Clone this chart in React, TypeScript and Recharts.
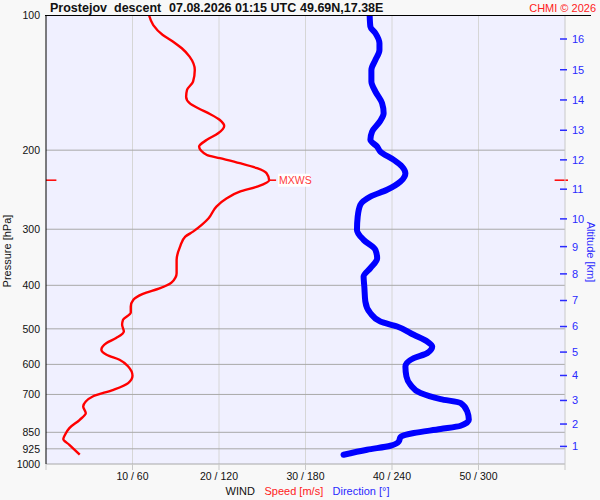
import React from 'react';
import { ScatterChart, Scatter, XAxis, YAxis, CartesianGrid, ReferenceLine } from 'recharts';

// ---- data ----
const speedPressure = [
  100, 105.3, 110.8, 114.7, 118.6, 123.8, 132.5, 140.7, 146.9, 152.0, 157.2, 161.3, 166.3, 171.3, 176.6,
  183.4, 189.7, 196.4, 205.0, 208.4, 213.8, 219.4, 225.1, 233.3, 241.1, 247.4, 255.9, 267.1, 283.5, 293.4,
  303.7, 311.6, 328.0, 351.1, 375.8, 394.4, 405.9, 417.9, 430.9, 446.0, 459.9, 477.5, 489.8, 506.9, 524.3,
  537.9, 556.7, 571.2, 586.0, 606.5, 636.1, 660.3, 683.4, 707.3, 725.7, 744.6, 770.2, 797.1, 831.8, 860.8,
  880.0, 906.1, 953.5,
];
const speedValues = [
  11.9, 12.4, 13.5, 14.7, 15.7, 16.6, 17.2, 17.0, 16.3, 16.2, 16.6, 17.6, 19.0, 20.1, 20.6,
  19.9, 18.6, 17.7, 18.6, 20.1, 22.4, 24.4, 25.5, 25.8, 24.4, 22.4, 20.9, 19.7, 18.8, 18.0,
  17.0, 16.1, 15.5, 15.1, 15.1, 14.5, 13.2, 11.2, 10.1, 9.8, 9.8, 8.9, 8.8, 9.0, 8.1,
  7.0, 6.4, 7.0, 8.5, 9.5, 10.0, 9.5, 7.8, 5.4, 4.6, 4.3, 4.6, 3.9, 2.7, 2.2,
  2.0, 2.7, 3.9,
];
const dirPressure = [
  100, 106.2, 109.8, 115.6, 119.6, 125.9, 132.5, 140.7, 148.1, 157.2, 165.5, 172.8, 181.8, 189.7, 196.4,
  201.5, 210.2, 217.6, 225.1, 234.9, 245.1, 253.8, 264.8, 281.2, 301.0, 316.8, 333.6, 348.0, 366.3, 382.4,
  402.6, 434.6, 461.3, 481.6, 494.1, 515.5, 533.5, 547.4, 566.3, 580.9, 606.5, 638.4, 666.1, 695.1, 716.8,
  731.7, 763.9, 797.1, 822.0, 836.0, 853.1, 871.0, 891.0, 910.8, 929.5, 953.5,
];
const dirValues = [
  224.5, 225.0, 228.5, 231.3, 231.3, 228.5, 225.7, 225.7, 228.5, 233.1, 234.2, 231.5, 226.2, 225.0, 229.7,
  231.9, 241.2, 247.0, 249.3, 245.9, 236.6, 225.0, 218.0, 216.2, 215.7, 220.3, 228.5, 229.7, 225.0, 220.3,
  220.8, 221.5, 225.0, 231.9, 243.6, 255.1, 264.4, 267.9, 264.4, 255.1, 249.3, 250.0, 252.8, 259.8, 273.7,
  287.6, 292.2, 293.3, 287.6, 273.7, 255.1, 245.9, 244.7, 238.9, 222.7, 206.4,
];

const pressureTicks = [100, 200, 300, 400, 500, 600, 700, 850, 925, 1000];
const pressureGrid = [200, 300, 400, 500, 600, 700, 850, 925, 1000];
const speedTicks = [10, 20, 30, 40, 50];
const dirTicks = [60, 120, 180, 240, 300];
const speedAxisTicks = [0, 10, 20, 30, 40, 50, 60];
const altitudeKm = [1, 2, 3, 4, 5, 6, 7, 8, 9, 10, 11, 12, 13, 14, 15, 16];
const altitudePressure = [
  913.7, 814.7, 721.9, 635.1, 563.3, 494.1, 432.4, 377.2, 328.0, 284.5, 244.3, 210.2, 180.6, 154.6, 132.4, 113.1,
];
const mxwsSpeed = 25.8;
const mxwsPressure = 233.3;

const speedData = speedPressure.map((p, i) => ({ p, speed: speedValues[i] }));
const dirData = dirPressure.map((p, i) => ({ p, dir: dirValues[i] }));

const FONT = '"Liberation Sans", Arial, Helvetica, sans-serif';

const NoShape = () => <g />;

const AltTick = (props: any) => {
  const { x, y, payload } = props;
  const idx = altitudePressure.indexOf(payload.value);
  return (
    <g>
      <line x1={x - 5} x2={x + 2} y1={y} y2={y} stroke="#2a2aff" strokeWidth={1.5} />
      <text x={x + 7} y={y} dy="0.36em" fill="#2a2aff" fontSize={11} fontFamily={FONT}>
        {idx >= 0 ? altitudeKm[idx] : ''}
      </text>
    </g>
  );
};

const speedTickFormatter = (v: number) => {
  const idx = speedTicks.indexOf(v);
  return idx >= 0 ? `${v} / ${dirTicks[idx]}` : '';
};

const MxwsLabel = (props: any) => {
  const vb = props.viewBox || {};
  const x = (vb.x ?? 0) + (vb.width ?? 0) + 2;
  const y = vb.y ?? 0;
  return (
    <g>
      <rect x={x} y={y - 6.5} width={32} height={13} fill="#ffffff" />
      <text x={x + 1} y={y} dy="0.36em" fill="#ff3b3b" fontSize={10.5} fontFamily={FONT}>
        MXWS
      </text>
    </g>
  );
};

export default function App() {
  return (
    <div
      style={{
        position: 'absolute',
        left: 0,
        top: 0,
        width: 600,
        height: 500,
        background: '#f8f8f8',
        fontFamily: FONT,
      }}
    >
      <ScatterChart width={600} height={500} margin={{ top: 15, right: 0, bottom: 0, left: 0 }}>
        <CartesianGrid xAxisId="speed" yAxisId="p" fill="#f0f0ff" stroke="none" horizontal={false} vertical={false} />
        <XAxis
          xAxisId="speed"
          dataKey="speed"
          type="number"
          orientation="bottom"
          domain={[0, 60]}
          allowDataOverflow
          ticks={speedAxisTicks}
          interval={0}
          tickFormatter={speedTickFormatter}
          axisLine={false}
          tickLine={{ stroke: '#c8c8c8' }}
          tickSize={6}
          tickMargin={3}
          height={36}
          tick={{ fill: '#111', fontSize: 10.5, fontFamily: FONT }}
        />
        <XAxis
          xAxisId="dir"
          dataKey="dir"
          type="number"
          orientation="top"
          domain={[0, 360]}
          allowDataOverflow
          hide
        />
        <YAxis
          yAxisId="p"
          dataKey="p"
          type="number"
          scale="log"
          domain={[100, 1000]}
          allowDataOverflow
          reversed
          ticks={pressureTicks}
          interval={0}
          width={46}
          axisLine={{ stroke: '#000' }}
          tickLine={false}
          tickSize={0}
          tickMargin={6}
          tick={{ fill: '#111', fontSize: 10.5, fontFamily: FONT }}
        />
        <YAxis
          yAxisId="alt"
          orientation="right"
          type="number"
          scale="log"
          domain={[100, 1000]}
          allowDataOverflow
          reversed
          ticks={altitudePressure}
          interval={0}
          width={35}
          axisLine={{ stroke: '#c8c8c8' }}
          tickLine={false}
          tickSize={0}
          tickMargin={0}
          tick={<AltTick />}
        />
        {speedTicks.map((v) => (
          <ReferenceLine key={'v' + v} xAxisId="speed" yAxisId="p" x={v} stroke="#d6d6d6" strokeWidth={1} />
        ))}
        {pressureGrid.map((v) => (
          <ReferenceLine key={'h' + v} xAxisId="speed" yAxisId="p" y={v} stroke="#a8a8a8" strokeWidth={1} />
        ))}
        <Scatter
          xAxisId="dir"
          yAxisId="p"
          data={dirData}
          dataKey="dir"
          line={{ stroke: '#0000ff', strokeWidth: 6, strokeLinecap: 'round', strokeLinejoin: 'round' }}
          lineType="joint"
          lineJointType="monotoneY"
          shape={NoShape}
          fill="#0000ff"
          isAnimationActive={false}
        />
        <Scatter
          xAxisId="speed"
          yAxisId="p"
          data={speedData}
          dataKey="speed"
          line={{ stroke: '#ff0000', strokeWidth: 2.4, strokeLinejoin: 'round' }}
          lineType="joint"
          lineJointType="monotoneY"
          shape={NoShape}
          fill="#ff0000"
          isAnimationActive={false}
        />
        <ReferenceLine
          xAxisId="speed"
          yAxisId="p"
          ifOverflow="visible"
          segment={[
            { x: mxwsSpeed, y: mxwsPressure },
            { x: mxwsSpeed + 0.8, y: mxwsPressure },
          ]}
          stroke="#ff0000"
          strokeWidth={1.5}
          label={(p: any) => <MxwsLabel {...p} />}
        />
        <ReferenceLine
          xAxisId="speed"
          yAxisId="p"
          ifOverflow="visible"
          segment={[
            { x: 0, y: mxwsPressure },
            { x: 1.2, y: mxwsPressure },
          ]}
          stroke="#ff0000"
          strokeWidth={1.5}
        />
        <ReferenceLine
          xAxisId="speed"
          yAxisId="p"
          ifOverflow="visible"
          segment={[
            { x: 58.8, y: mxwsPressure },
            { x: 60.35, y: mxwsPressure },
          ]}
          stroke="#ff0000"
          strokeWidth={1.5}
        />
      </ScatterChart>
      <svg
        width={600}
        height={500}
        style={{ position: 'absolute', left: 0, top: 0, pointerEvents: 'none' }}
        fontFamily={FONT}
      >
        <line x1={45} x2={591} y1={15.5} y2={15.5} stroke="#000" strokeWidth={1} />
        <g fontWeight="bold" fontSize={12.5} fill="#111">
          <text x={50} y={12}>Prostejov</text>
          <text x={114} y={12}>descent</text>
          <text x={169} y={12}>07.08.2026 01:15 UTC</text>
          <text x={300} y={12}>49.69N,17.38E</text>
        </g>
        <text x={596} y={12} textAnchor="end" fontSize={11} fill="#ff2020">
          CHMI © 2026
        </text>
        <text
          x={11}
          y={251}
          textAnchor="middle"
          fontSize={11}
          fill="#111"
          transform="rotate(-90 11 251)"
        >
          Pressure [hPa]
        </text>
        <text
          x={587}
          y={252}
          textAnchor="middle"
          fontSize={11}
          fill="#2a2aff"
          transform="rotate(90 587 252)"
        >
          Altitude [km]
        </text>
        <text x={225.5} y={494.5} fontSize={11} fill="#111">
          WIND
        </text>
        <text x={264.5} y={494.5} fontSize={11} fill="#ff2020">
          Speed [m/s]
        </text>
        <text x={332.5} y={494.5} fontSize={11} fill="#2a2aff">
          Direction [°]
        </text>
      </svg>
    </div>
  );
}
